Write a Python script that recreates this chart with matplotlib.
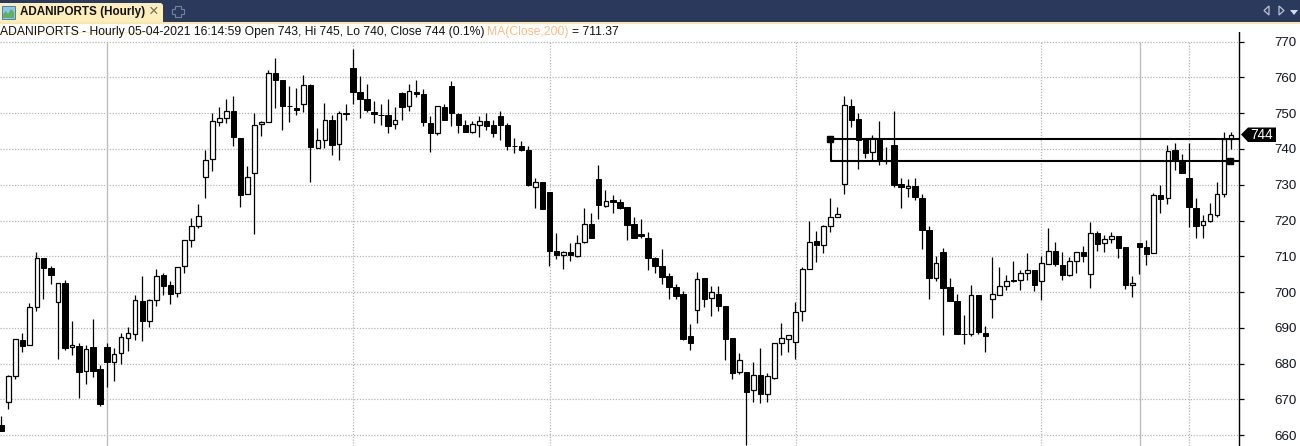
import matplotlib
matplotlib.use('Agg')
import matplotlib.pyplot as plt
from matplotlib.patches import Rectangle, Polygon, FancyBboxPatch
import numpy as np

plt.rcParams['font.family'] = ['Liberation Sans', 'DejaVu Sans']

# hourly candles
opens = [662.8, 669.4, 676.7, 686.5, 685.1, 695.8, 709.4, 706.7, 697.2, 702.5,
         684.6, 684.9, 677.9, 684.6, 678.4, 684.6, 680.4, 682.9, 687.1, 688.2,
         697.4, 691.8, 697.7, 704.7, 701.9, 699.7, 707.2, 714.6, 718.5, 732.2,
         737.2, 747.5, 748.6, 750.6, 743.0, 727.4, 733.3, 747.0, 747.5, 761.2,
         759.3, 752.0, 751.4, 752.6, 757.9, 740.2, 742.5, 748.2, 741.4, 750.1,
         762.6, 755.9, 754.0, 750.3, 749.5, 749.5, 747.0, 755.6, 752.0, 756.0,
         755.4, 747.1, 744.5, 751.7, 757.6, 749.8, 746.7, 744.6, 746.7, 747.8,
         746.7, 749.3, 746.7, 740.8, 740.8, 739.7, 729.4, 730.8, 728.0, 711.5,
         710.4, 711.2, 710.0, 713.9, 719.1, 731.6, 724.0, 725.6, 725.2, 723.9,
         718.9, 716.1, 715.2, 709.4, 707.4, 704.6, 701.5, 699.6, 687.6, 695.0,
         703.8, 698.3, 699.6, 696.2, 687.3, 677.6, 677.7, 672.6, 676.9, 671.5,
         676.1, 685.8, 686.9, 686.1, 694.7, 706.5, 714.3, 713.2, 718.5, 721.0,
         730.2, 752.0, 748.4, 742.9, 739.2, 742.9, 737.0, 741.2, 730.3, 729.0,
         729.7, 726.3, 717.4, 703.9, 711.3, 701.5, 697.6, 688.4, 688.3, 699.3,
         688.7, 698.1, 699.2, 701.8, 703.5, 703.3, 705.4, 706.3, 703.1, 707.8,
         711.5, 707.5, 704.9, 708.7, 711.2, 705.0, 716.5, 713.7, 714.8, 715.7,
         712.7, 702.0, 713.8, 712.7, 710.8, 727.1, 726.4, 739.8, 736.7, 731.9,
         723.6, 718.7, 719.8, 721.5, 727.3, 742.9]
closes = [661.3, 676.5, 686.8, 685.0, 695.8, 709.4, 706.6, 704.9, 702.5, 684.5,
          685.1, 677.8, 684.0, 678.1, 668.8, 680.5, 682.8, 687.4, 688.5, 697.7,
          691.8, 697.7, 704.4, 701.8, 699.6, 706.9, 714.5, 718.5, 721.3, 736.9,
          747.8, 748.6, 750.6, 743.2, 727.0, 732.2, 746.7, 747.5, 761.2, 759.2,
          751.9, 751.9, 750.8, 757.9, 740.4, 742.5, 748.1, 741.0, 750.0, 749.7,
          755.8, 753.9, 750.8, 749.7, 749.4, 746.3, 748.1, 751.6, 756.2, 755.3,
          747.4, 744.4, 752.0, 748.0, 749.9, 746.6, 744.6, 747.0, 747.8, 746.3,
          744.4, 746.6, 740.7, 740.7, 739.6, 729.9, 730.8, 723.1, 711.4, 710.3,
          711.2, 710.3, 713.7, 719.0, 715.0, 724.3, 725.5, 725.1, 723.6, 718.7,
          715.2, 715.6, 709.5, 707.2, 704.3, 701.4, 699.0, 687.0, 685.9, 703.7,
          698.2, 700.1, 696.0, 687.0, 677.5, 681.1, 672.2, 676.9, 671.4, 676.6,
          685.8, 687.2, 688.0, 694.5, 706.5, 714.0, 713.1, 718.5, 721.0, 721.9,
          752.3, 748.0, 742.5, 738.8, 743.0, 736.9, 736.8, 729.9, 729.3, 729.7,
          726.5, 717.3, 703.9, 708.2, 701.1, 697.5, 688.3, 688.3, 699.3, 688.8,
          687.7, 699.5, 701.8, 703.2, 703.0, 705.4, 706.2, 701.9, 708.2, 711.5,
          707.8, 704.9, 708.7, 711.2, 710.0, 716.5, 713.5, 714.8, 715.6, 712.4,
          702.0, 702.5, 712.5, 710.7, 727.1, 726.1, 739.4, 736.5, 733.3, 723.9,
          718.6, 719.8, 721.8, 727.4, 742.9, 744.0]
highs = [665.4, 676.9, 687.0, 688.6, 696.9, 711.2, 709.4, 707.3, 702.5, 703.4,
         691.9, 685.7, 685.1, 692.5, 679.6, 685.7, 684.4, 688.5, 690.2, 699.2,
         704.5, 698.1, 706.5, 705.3, 703.1, 706.9, 714.5, 720.7, 724.6, 739.8,
         749.9, 751.8, 753.8, 754.9, 743.0, 735.3, 749.9, 747.9, 761.9, 765.4,
         759.3, 757.7, 757.1, 760.7, 758.2, 745.9, 752.9, 749.5, 750.7, 752.6,
         768.0, 760.4, 758.0, 753.5, 752.6, 753.8, 751.8, 755.9, 758.0, 759.3,
         756.6, 749.3, 752.0, 752.6, 759.1, 750.1, 748.2, 747.9, 749.3, 749.9,
         748.2, 750.5, 747.3, 743.1, 742.3, 740.9, 731.9, 730.8, 728.0, 716.6,
         711.6, 713.8, 716.0, 723.6, 722.2, 735.6, 728.6, 727.2, 726.1, 723.9,
         720.9, 720.3, 716.9, 709.9, 711.9, 705.2, 702.4, 700.4, 691.2, 705.5,
         703.8, 701.6, 701.6, 696.2, 687.3, 683.1, 677.7, 680.5, 684.5, 677.5,
         685.8, 691.5, 688.0, 697.1, 706.9, 720.0, 717.2, 718.8, 726.2, 723.9,
         754.9, 753.8, 749.9, 742.9, 743.8, 747.7, 740.4, 750.5, 732.0, 731.5,
         731.8, 727.3, 718.5, 710.0, 712.2, 703.8, 699.6, 693.5, 701.9, 699.3,
         690.4, 709.7, 706.9, 704.9, 708.6, 706.3, 710.8, 706.3, 710.0, 718.0,
         714.1, 711.2, 709.8, 711.2, 712.9, 719.6, 717.1, 716.0, 716.9, 715.7,
         712.7, 704.6, 713.8, 714.6, 727.7, 730.0, 741.2, 741.7, 738.6, 741.7,
         726.4, 721.6, 725.0, 730.8, 744.8, 744.7]
lows = [661.3, 667.4, 675.6, 683.4, 685.1, 694.6, 698.2, 702.4, 681.4, 683.9,
        682.3, 670.5, 674.4, 676.4, 668.3, 673.6, 675.3, 680.0, 683.6, 686.7,
        686.4, 690.3, 696.2, 699.3, 696.8, 698.7, 705.4, 712.5, 717.8, 726.2,
        733.7, 746.3, 747.2, 740.7, 723.7, 727.4, 716.1, 743.7, 747.5, 751.3,
        745.2, 747.4, 749.4, 750.2, 730.7, 740.2, 740.2, 738.2, 736.8, 748.2,
        752.5, 748.7, 750.4, 747.2, 746.7, 744.4, 745.5, 748.0, 750.5, 754.4,
        746.3, 739.0, 743.8, 748.0, 746.3, 744.4, 744.6, 744.4, 743.2, 745.2,
        743.2, 742.6, 739.6, 738.8, 739.3, 729.6, 723.4, 723.1, 707.4, 709.2,
        706.4, 708.6, 709.7, 713.6, 715.0, 720.5, 723.7, 722.2, 723.3, 714.5,
        715.2, 715.2, 706.3, 705.2, 702.4, 698.2, 698.2, 686.5, 683.9, 691.5,
        695.7, 693.2, 694.6, 680.9, 675.6, 677.2, 657.4, 669.4, 669.1, 669.4,
        675.8, 682.3, 683.4, 681.2, 692.0, 706.5, 708.5, 710.9, 716.8, 721.0,
        727.4, 746.1, 734.4, 737.4, 736.8, 735.5, 735.8, 729.3, 723.5, 726.5,
        725.7, 711.9, 698.0, 703.1, 688.0, 697.5, 688.3, 685.4, 687.7, 688.2,
        683.4, 692.9, 699.2, 700.7, 702.7, 700.5, 703.3, 700.2, 697.7, 707.8,
        707.2, 703.4, 704.6, 705.2, 708.4, 701.2, 711.5, 711.3, 713.8, 709.6,
        700.9, 698.7, 705.1, 707.6, 710.8, 722.2, 724.7, 734.2, 733.2, 718.2,
        715.2, 715.2, 719.6, 720.9, 726.7, 740.1]

price_ticks = [660, 670, 680, 690, 700, 710, 720, 730, 740, 750, 760, 770]
solid_sessions = [15, 162]
dotted_sessions = [50, 78, 113, 148, 169]
level_upper = 742.8
level_lower = 736.6
level_start = 118
last_close = 744

W, H = 1300, 446
AX_RIGHT = 1239.3
AX_TOP = 24
PX_PER_CANDLE = 7.025
X0 = 1.7
PX_PER_UNIT = 3.58

fig = plt.figure(figsize=(W / 100, H / 100), dpi=100, facecolor='white')
ax = fig.add_axes([0, 0, AX_RIGHT / W, (H - AX_TOP) / H])
ax.set_xlim(-X0 / PX_PER_CANDLE, (AX_RIGHT - X0) / PX_PER_CANDLE)
ax.set_ylim(660 + (435.3 - H) / PX_PER_UNIT, 660 + (435.3 - AX_TOP) / PX_PER_UNIT)

# grid
ax.hlines(price_ticks, *ax.get_xlim(), colors='#b4b4b4', lw=0.9, linestyles=(0, (1, 1.3)), zorder=1)
ax.vlines(solid_sessions, ax.get_ylim()[0], 770, colors='#bdbdbd', lw=1.0, zorder=1)
ax.vlines(dotted_sessions, ax.get_ylim()[0], 770, colors='#b4b4b4', lw=0.9, linestyles=(0, (1, 1.3)), zorder=1)

# candles
opens_a, closes_a = np.array(opens), np.array(closes)
highs_a, lows_a = np.array(highs), np.array(lows)
idx = np.arange(len(opens_a))
down = closes_a < opens_a
ax.vlines(idx - 0.05, lows_a, highs_a, colors='black', lw=0.9, zorder=2)
body_lo = np.minimum(opens_a, closes_a)
body_h = np.abs(closes_a - opens_a)
ax.bar(idx[down], body_h[down], bottom=body_lo[down], width=0.75,
       facecolor='black', edgecolor='black', lw=0.7, zorder=3)
ax.bar(idx[~down], body_h[~down], bottom=body_lo[~down], width=0.66,
       facecolor='white', edgecolor='black', lw=0.9, zorder=3)

# trend channel drawn on the chart
xr = ax.get_xlim()[1]
ax.plot([level_start, xr], [level_upper, level_upper], color='black', lw=1.5, zorder=4, solid_capstyle='butt')
ax.plot([xr, level_start, level_start], [level_lower, level_lower, level_upper], color='black', lw=1.5, zorder=4)
ax.plot([level_start - 0.15], [level_upper], marker='s', ms=4.4, color='black', zorder=4)
ax.plot([175 - 0.2], [level_lower - 0.1], marker='s', ms=4.4, color='black', zorder=4)

# price axis
for s in ['top', 'left', 'bottom']:
    ax.spines[s].set_visible(False)
ax.spines['right'].set_linewidth(1.0)
ax.set_facecolor('white')
ax.yaxis.tick_right()
ax.set_yticks(price_ticks)
ax.set_yticklabels([str(p) for p in price_ticks], fontsize=9.6, color='#111122')
ax.tick_params(axis='y', length=3.4, width=0.9, pad=21.6)
ax.set_xticks([])

# window chrome, pixel coords
ui = fig.add_axes([0, 0, 1, 1], facecolor='none')
ui.set_xlim(0, W)
ui.set_ylim(H, 0)
ui.axis('off')
ui.add_patch(Rectangle((0, 0), W, 22, fc='#2b3a5c', ec='none'))
ui.add_patch(Rectangle((0, 22), W, 2, fc='#fbe7a8', ec='none'))
ui.add_patch(FancyBboxPatch((-6, 3), 169, 30, boxstyle='round,pad=0,rounding_size=3',
                            fc='#fdeebd', ec='none', clip_on=True))
ui.add_patch(Rectangle((0, 24), W, 8, fc='white', ec='none', zorder=1.5))
ui.add_patch(Rectangle((0, 22), 164, 2, fc='#fbe7a8', ec='none', zorder=2))
ui.add_patch(Rectangle((2, 6), 13, 13, fc='#8fc4ec', ec='#4d7fae', lw=0.7, zorder=2))
ui.add_patch(Polygon([(3, 18), (3, 14), (6, 11), (8, 14), (11, 9), (14, 12), (14, 18)],
                     fc='#5fb35a', ec='none', zorder=3))
ui.text(20, 12.5, 'ADANIPORTS (Hourly)', fontsize=8.4, fontweight='bold',
        color='#111111', va='center', ha='left', zorder=4)
ui.text(153.5, 11.5, '\u00d7', fontsize=12, color='#6f6a5c', va='center', ha='center', zorder=4)
ui.add_patch(Polygon([(175, 6), (181, 6), (181, 9), (184, 9), (184, 14), (181, 14), (181, 17),
                      (175, 17), (175, 14), (172, 14), (172, 9), (175, 9)],
                     fc='none', ec='#75809a', lw=0.8))
ui.add_patch(Polygon([(1269, 6), (1269, 15), (1264, 10.5)], fc='none', ec='#b9c1d2', lw=0.9))
ui.add_patch(Polygon([(1279, 6), (1279, 15), (1284, 10.5)], fc='none', ec='#b9c1d2', lw=0.9))
ui.add_patch(Polygon([(1290, 10), (1298, 10), (1294, 15)], fc='#d7dce6', ec='none'))

# header line
ui.text(0, 32, 'ADANIPORTS - Hourly 05-04-2021 16:14:59 Open 743, Hi 745, Lo 740, Close 744 (0.1%)',
        fontsize=8.7, color='#111111', va='center', ha='left', zorder=4)
ui.text(487, 32, 'MA(Close,200)', fontsize=8.7, color='#f9bd87', va='center', ha='left', zorder=4)
ui.text(572, 32, '= 711.37', fontsize=8.7, color='#111111', va='center', ha='left', zorder=4)

# last price flag
ui.add_patch(Polygon([(1241, 134.5), (1248, 127.5), (1276, 127.5), (1276, 142), (1248, 142)],
                     fc='black', ec='none', zorder=5))
ui.text(1262, 134.8, str(last_close), fontsize=9.8, color='white',
        va='center', ha='center', zorder=6)

fig.savefig('out.png', dpi=100)
plt.close()
